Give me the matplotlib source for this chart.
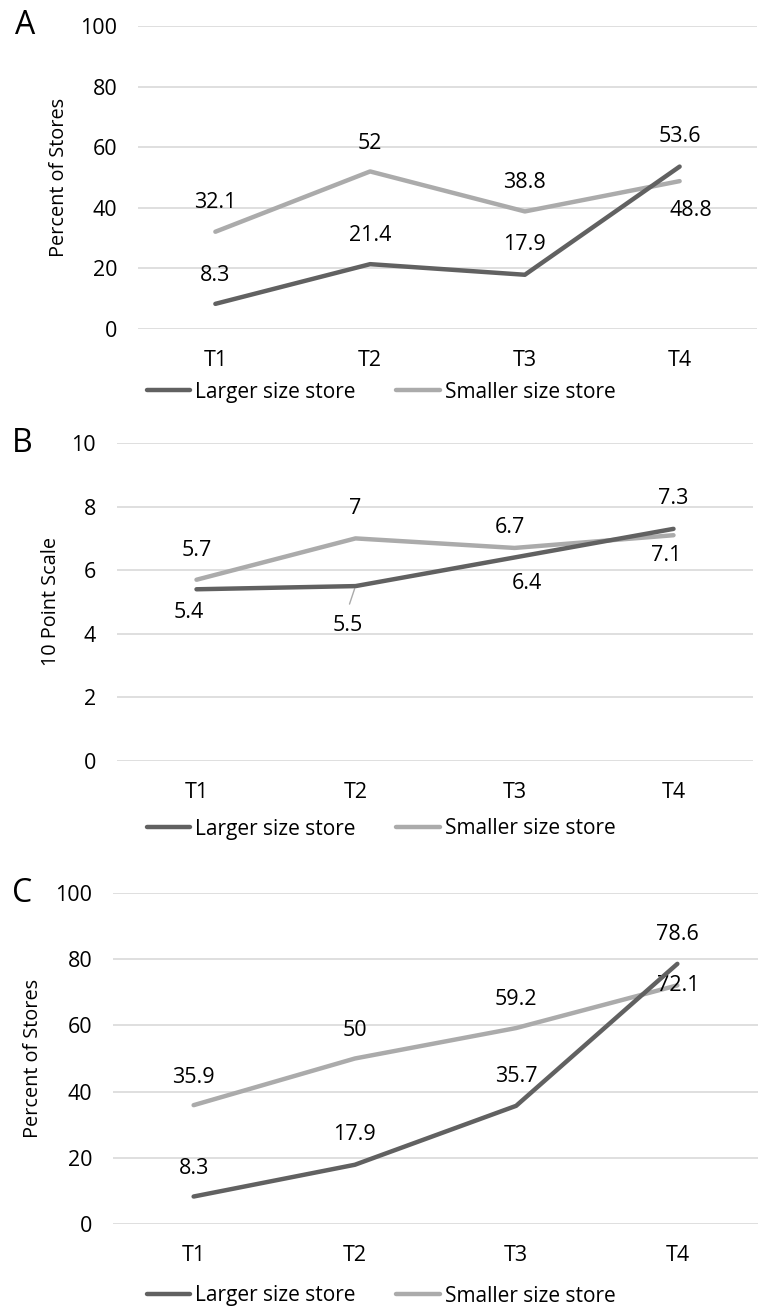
import matplotlib
matplotlib.use("Agg")
from matplotlib import pyplot as plt

plt.rcParams['font.family'] = ['Open Sans', 'DejaVu Sans']

# datos
tiempos = ["T1", "T2", "T3", "T4"]
serie_nombres = ["Larger size store", "Smaller size store"]

a_grande = [8.3, 21.4, 17.9, 53.6]
a_chica = [32.1, 52, 38.8, 48.8]

b_grande = [5.4, 5.5, 6.4, 7.3]
b_chica = [5.7, 7, 6.7, 7.1]

c_grande = [8.3, 17.9, 35.7, 78.6]
c_chica = [35.9, 50, 59.2, 72.1]

# desplazamiento de etiquetas (pixeles: dx, dy hacia abajo)
a_off_grande = [(0, -28), (0, -29), (0, -30), (0, -30)]
a_off_chica = [(0, -29), (0, -28), (0, -29), (11, 29)]
b_off_grande = [(-8, 23), (-8, 39), (12, 26), (0, -30)]
b_off_chica = [(0, -29), (0, -30), (-5, -20), (-7, 20)]
c_off_grande = [(0, -28), (0, -30), (0, -29), (0, -29)]
c_off_chica = [(0, -28), (0, -28), (0, -29), (1, 0)]

W, H = 758, 1308
OSCURO = "#616161"
CLARO = "#ababab"
GRILLA = "#d9d9d9"
F_NUM = 15.5
F_LEY = 15
F_YLAB = 14.3


def fmt(v):
    return ("%g" % v)


def px2pt(p):
    return p * 72 / 100.0


###función que dibuja un panel###
def panel(fig, caja, grande, chica, off_g, off_c, ymax, paso, ylabel, letra,
          ylab_x, letra_x, legend_y, leader=None):
    x0, y_top, x1, y_bot = caja
    ax = fig.add_axes([x0 / W, 1 - y_bot / H, (x1 - x0) / W, (y_bot - y_top) / H])
    x = list(range(len(tiempos)))
    ax.plot(x, chica, color=CLARO, lw=3.2, solid_capstyle='round', zorder=3)
    ax.plot(x, grande, color=OSCURO, lw=3.2, solid_capstyle='round', zorder=4)
    ax.set_xlim(-0.5, len(tiempos) - 0.5)
    ax.set_ylim(0, ymax)
    ax.set_yticks([i * paso for i in range(int(ymax / paso) + 1)])
    ax.set_xticks(x)
    ax.set_xticklabels(tiempos)
    ax.tick_params(length=0, labelsize=F_NUM)
    ax.tick_params(axis='y', pad=15)
    ax.tick_params(axis='x', pad=15)
    ax.grid(axis='y', color=GRILLA, lw=1.2)
    ax.set_axisbelow(True)
    for s in ax.spines.values():
        s.set_visible(False)

    for vals, offs in ((grande, off_g), (chica, off_c)):
        for i, v in enumerate(vals):
            dx, dy = offs[i]
            ax.annotate(fmt(v), (i, v), xytext=(px2pt(dx), px2pt(-dy)),
                        textcoords='offset points', ha='center', va='center',
                        fontsize=F_NUM, annotation_clip=False)
    if leader is not None:
        i, v, dx, dy = leader
        ax.annotate("", (i, v), xytext=(px2pt(dx), px2pt(-dy)),
                    textcoords='offset points',
                    arrowprops=dict(arrowstyle='-', color=CLARO, lw=1,
                                    shrinkA=0, shrinkB=2))

    yc = (y_top + y_bot) / 2.0
    fig.text(ylab_x / W, 1 - yc / H, ylabel, rotation=90, ha='center',
             va='center', fontsize=F_YLAB)
    fig.text(letra_x / W, 1 - y_top / H, letra, ha='center', va='center',
             fontsize=23)

    hs = [plt.Line2D([], [], color=OSCURO, lw=3.2, solid_capstyle='round'),
          plt.Line2D([], [], color=CLARO, lw=3.2, solid_capstyle='round')]
    fig.legend(hs, serie_nombres, loc='center',
               bbox_to_anchor=(381 / W, 1 - legend_y / H), ncol=2,
               frameon=False, fontsize=F_LEY, handlelength=2.07,
               handletextpad=0.24, columnspacing=1.97)
    return ax


fig = plt.figure(figsize=(W / 100, H / 100), dpi=100)

panel(fig, (138, 26, 757, 329), a_grande, a_chica, a_off_grande, a_off_chica,
      100, 20, "Percent of Stores", "A", 59, 25, 392)
panel(fig, (117, 443, 753, 761), b_grande, b_chica, b_off_grande, b_off_chica,
      10, 2, "10 Point Scale", "B", 51, 22, 829, leader=(1, 5.5, -6, 18))
panel(fig, (113, 893, 758, 1224), c_grande, c_chica, c_off_grande, c_off_chica,
      100, 20, "Percent of Stores", "C", 33, 22, 1296)

fig.savefig("out.png", dpi=100)
